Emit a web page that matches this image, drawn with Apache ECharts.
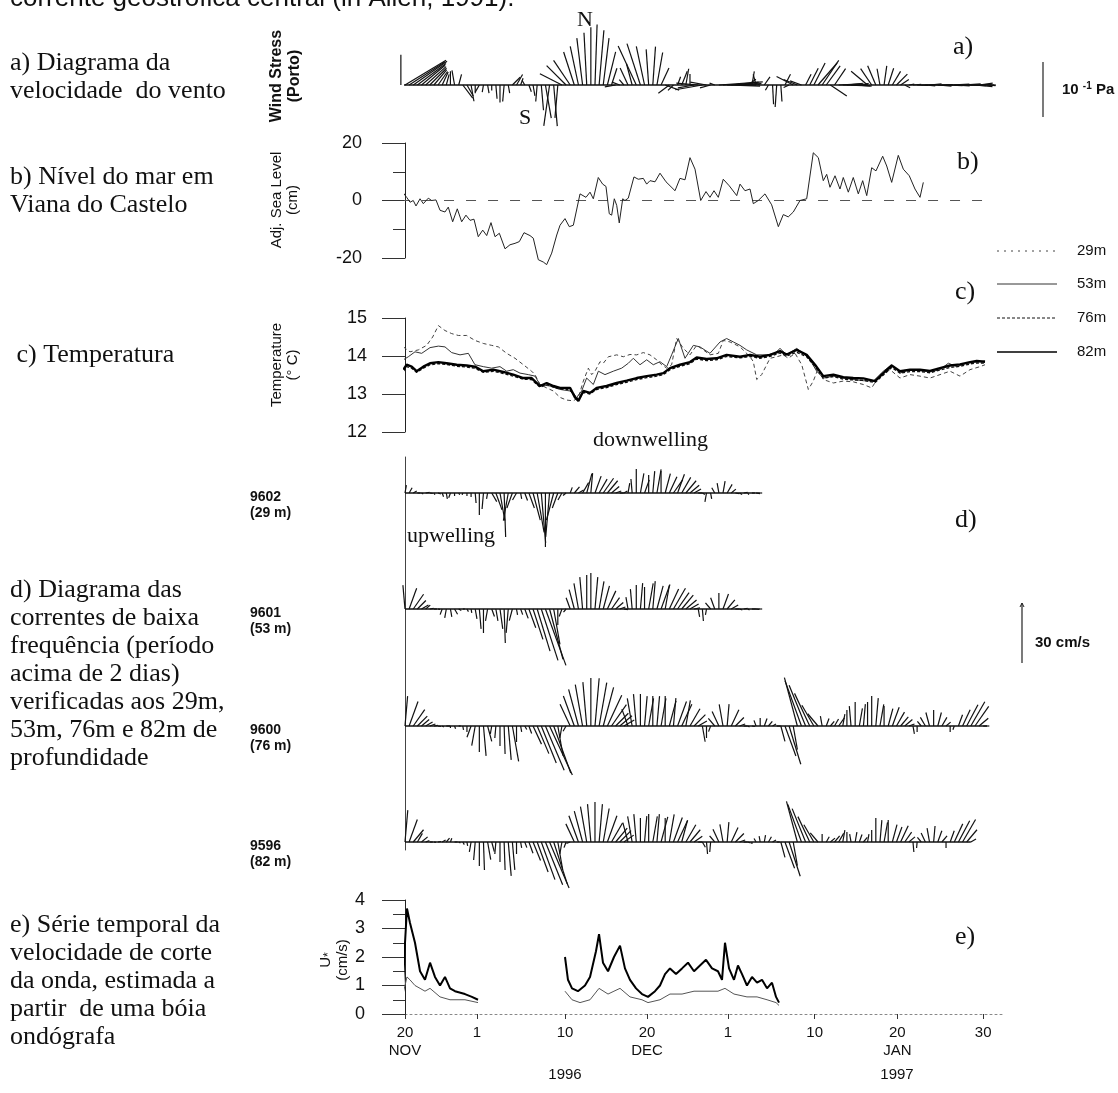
<!DOCTYPE html>
<html><head><meta charset="utf-8">
<script src="https://cdn.jsdelivr.net/npm/echarts/dist/echarts.min.js"></script>
<style>html,body{margin:0;padding:0;background:#fff}#c{width:1118px;height:1093px}</style>
</head><body><div id="c"></div>
<script>
// ---------- DATA (x in chart time units: 0 = 20 NOV tick, ~10 units between labelled ticks) ----------
var tickValues = [0, 8.72, 19.37, 29.3, 39.1, 49.6, 59.6, 70];
var tickLabels = ['20\nNOV','1','10','20\nDEC','1','10','20\nJAN','30'];
var legendNames = ['29m','53m','76m','82m'];

// a) wind stress sticks [speed (1e-2 Pa), direction deg clockwise from north], every 0.5 unit from windT0
var windT0 = -0.5;
var windSticks = [[5.5,0],[8.7,59],[7.8,57],[7.5,55],[6.5,53],[5.6,50],[5,48],[4.3,45],[3.6,40],[3,35],
[2.6,25],[2,15],[2.5,0],[2.7,-10],[2,15],[3,143],[2.3,150],[3,170],[1.5,180],[1.5,210],
[1.3,190],[1.5,170],[1,180],[2.5,175],[3.2,180],[3,185],[1.5,170],[2,45],[2.2,30],[1.3,20],
[1,-30],[1.3,160],[2,170],[3,185],[4.6,175],[6.1,170],[7.5,188],[7.5,175],[6,185],[4.5,-63],
[5,-45],[5.4,-34],[6.3,-18],[7.2,-12],[8.6,-7],[9.5,-3],[10.5,0],[11,2],[10,5],[8.6,7],
[6.2,14],[3.2,18],[2,260],[1.5,290],[1.3,-40],[3.4,-25],[4,-15],[7.8,-25],[7.9,-18],[7.2,-12],
[6.5,-4],[7,4],[6,10],[3.4,25],[2.7,110],[2.5,233],[1.4,225],[1.6,20],[2.7,22],[3,10],
[2,0],[3,260],[4,275],[5,260],[3,280],[2,255],[1,290],[8,86],[7,88],[6,92],
[5,84],[4,87],[3,90],[2,75],[1.8,55],[2.5,10],[2,-15],[1.6,290],[1.8,35],[1.1,210],
[3.5,177],[4,184],[3,176],[2.2,27],[1.1,245],[3.4,297],[2.7,292],[2.2,290],[2.2,27],[3.4,27],
[4.5,27],[5.3,41],[5.4,34],[4.3,36],[3.6,124],[3.6,34],[4,87],[5,92],[3,84],[2,90],
[3,94],[1.5,82],[1,73],[3.9,-50],[3.6,-34],[3.8,-23],[3,-10],[3.5,8],[3.2,18],[2.9,31],
[2.8,45],[1.8,56],[1.1,117],[1,80],[1.5,85],[2,92],[2.5,88],[1.8,95],[2.2,85],[3,90],
[2.5,95],[2,88],[3,92],[3.5,87],[2.8,93],[3,90],[3.3,86],[3.5,92],[3.8,88],[3.2,95],
[2.5,82],[2,90],[1.5,95],[0.8,90]];

// b) adjusted sea level (cm)
var seaLevel = [[-0.61,-6],[-0.28,2.9],[0.2,1.1],[0.61,-0.6],[1.0,0],[1.33,-1.9],[1.82,0.6],[2.22,-1.1],[2.82,0.8],[3.23,0],[3.75,0.2],[4.24,-3.4],[4.84,-4],[5.24,-2.3],[5.77,-7.4],[6.33,-2.9],[6.86,-7.4],[7.38,-5.1],[7.87,-6.9],[8.35,-6.5],[8.87,-12.6],[9.41,-10.3],[9.89,-12.2],[10.41,-7.7],[10.9,-12.6],[11.42,-11.4],[12.11,-16.8],[12.71,-15.4],[13.32,-14.9],[13.84,-14.3],[14.41,-11.2],[15.13,-12.2],[15.53,-13.1],[16.14,-20.6],[16.74,-21.4],[17.15,-22.3],[17.76,-18.3],[18.37,-12],[18.77,-8.6],[19.37,-6.3],[19.89,-9.1],[20.38,-8.6],[21.19,2.3],[21.91,1.1],[22.4,2.9],[22.8,0.6],[23.4,8],[23.93,5.7],[24.33,4.9],[24.73,-4.6],[25.02,-5.1],[25.34,0.6],[25.63,-1.7],[25.94,-7.8],[26.36,0.6],[26.63,0],[27.03,0.8],[27.72,8.2],[28.24,7.4],[28.85,7.7],[29.26,5.7],[29.66,6.9],[30.27,6.5],[30.87,9.5],[31.6,6.5],[32.69,3.4],[33.29,7.7],[33.9,7.2],[34.5,14.9],[35.11,10.9],[35.8,0],[36.44,3.1],[36.92,1.1],[37.41,3.4],[37.93,1.1],[38.53,7.4],[39.26,5.1],[40.16,1.7],[40.56,5.7],[41.16,3.4],[41.77,4],[42.17,-1.1],[42.77,0],[43.58,2.3],[44.39,-1.5],[45.2,-9.1],[45.8,-4.9],[46.4,-5.7],[47.01,-4],[47.82,0],[48.63,0.6],[49.43,16.6],[50.04,14.9],[50.64,6.9],[51.05,9.1],[51.45,4.6],[52.06,8.6],[52.66,4],[53.06,8],[53.67,2.9],[54.27,8],[54.88,2.3],[55.41,6.9],[55.9,1.7],[56.5,11.4],[57.02,10.3],[57.83,15.4],[58.32,12],[58.92,6.3],[59.72,15.7],[60.33,10.9],[61.05,8.6],[61.74,4],[62.35,1.1],[62.75,6.3]];
var seaZero = [[-0.6,0],[71,0]];

// c) temperature (deg C)
var temp29 = [[-0.2,14.24],[0.6,14.11],[1.61,14.16],[2.62,14.28],[3.35,14.5],[4.04,14.8],[4.84,14.67],[5.65,14.59],[6.46,14.54],[7.47,14.54],[8.47,14.41],[9.48,14.33],[10.49,14.28],[11.3,14.24],[12.31,14.07],[13.32,13.94],[14.33,13.77],[15.33,13.6],[15.74,13.51],[16.34,13.25],[17.15,13.16],[17.96,13.08],[18.77,12.91],[19.57,12.84],[20.38,12.82],[20.99,12.91],[21.59,13.34],[22.2,13.68],[22.6,13.51],[23,13.6],[23.61,13.85],[24.01,13.81],[24.62,13.98],[25.63,14.03],[26.43,13.98],[27.24,14.04],[28.05,14.03],[28.85,14.09],[29.66,14.03],[30.47,13.9],[31.07,13.77],[31.68,13.68],[32.28,13.77],[32.89,14.46],[33.7,14.2],[34.5,14.03],[35.31,14.28],[36.12,14.16],[36.92,14.03],[37.93,14.07],[38.54,14.41],[39.35,14.37],[40.56,14.24],[41.77,13.98],[42.17,13.85],[42.58,13.38],[43.18,13.51],[44.19,13.94],[45,13.98],[45.8,14.03],[46.41,13.94],[47.22,14.07],[48.03,13.77],[48.83,13.12],[49.43,13.34],[50.04,13.68],[50.64,13.38],[51.86,13.29],[53.06,13.34],[54.27,13.32],[55.49,13.25],[56.5,13.16],[57.51,13.51],[58.72,13.64],[59.93,13.42],[61.14,13.51],[62.35,13.47],[63.56,13.42],[64.77,13.51],[65.98,13.6],[67.19,13.47],[68.4,13.64],[69.61,13.72],[70.22,13.77]];
var temp53 = [[-0.2,13.9],[0.4,13.98],[1.21,14.11],[2.02,14.07],[3.03,14.22],[4.04,14.26],[4.84,14.24],[5.65,14.09],[6.66,14.03],[7.67,14.07],[8.47,13.77],[9.48,13.72],[10.49,13.68],[11.5,13.72],[12.31,13.6],[13.11,13.64],[13.92,13.55],[14.93,13.51],[15.74,13.47],[16.34,13.25],[17.55,13.21],[18.77,13.12],[19.98,13.08],[20.78,12.91],[21.39,13.08],[21.99,13.42],[22.8,13.25],[23.41,13.6],[24.21,13.51],[25.22,13.6],[26.23,13.68],[27.04,13.81],[27.64,13.94],[28.45,13.77],[29.26,13.9],[30.06,13.77],[30.87,13.85],[31.68,13.72],[32.28,14.03],[33.09,14.46],[33.9,13.94],[34.91,14.28],[35.71,14.24],[36.92,14.07],[38.14,14.37],[38.94,14.46],[39.75,14.37],[40.56,14.28],[41.37,14.16],[42.58,14.03],[43.79,14.03],[44.79,14.07],[45.4,14.2],[46.21,14.03],[47.42,14.2],[48.23,14.07],[49.03,13.9],[49.84,13.6],[50.64,13.42],[51.86,13.47],[53.06,13.42],[54.27,13.38],[55.49,13.35],[56.7,13.34],[57.91,13.6],[58.92,13.77],[59.93,13.55],[61.14,13.64],[62.35,13.61],[63.56,13.58],[64.77,13.64],[65.78,13.81],[66.79,13.72],[68,13.81],[69.21,13.84],[70.22,13.87]];
var temp76 = [[-0.2,13.6],[0.2,13.72],[0.81,13.68],[1.41,13.57],[2.22,13.68],[3.03,13.77],[4.04,13.8],[5.04,13.78],[6.26,13.73],[7.47,13.71],[8.47,13.68],[9.48,13.57],[10.69,13.6],[11.9,13.54],[13.11,13.47],[14.33,13.39],[15.33,13.38],[16.34,13.18],[17.15,13.25],[17.96,13.18],[18.77,13.13],[19.98,13.12],[20.58,12.95],[20.99,12.86],[21.59,13.04],[22.4,13.0],[23.2,13.12],[24.41,13.17],[25.63,13.25],[26.84,13.31],[28.05,13.38],[29.26,13.43],[30.47,13.47],[31.28,13.51],[32.08,13.64],[33.29,13.73],[34.5,13.8],[35.31,13.92],[36.52,13.88],[37.73,13.9],[38.94,13.99],[40.56,13.95],[41.77,13.99],[42.98,13.94],[44.19,13.99],[45.4,14.08],[46.21,14.0],[47.42,14.1],[48.63,13.98],[49.64,13.72],[50.64,13.42],[51.86,13.46],[53.06,13.39],[54.27,13.37],[55.49,13.36],[56.9,13.3],[57.91,13.5],[58.92,13.7],[59.93,13.55],[61.14,13.59],[62.35,13.59],[63.56,13.56],[64.77,13.63],[65.98,13.7],[67.19,13.73],[68.4,13.79],[69.21,13.82],[70.22,13.81]];
var temp82 = [[-0.2,13.64],[0.2,13.77],[0.81,13.72],[1.41,13.6],[2.22,13.72],[3.03,13.81],[4.04,13.84],[5.04,13.81],[6.26,13.77],[7.47,13.75],[8.47,13.72],[9.48,13.6],[10.69,13.64],[11.9,13.58],[13.11,13.51],[14.33,13.42],[15.33,13.42],[16.34,13.21],[17.15,13.29],[17.96,13.21],[18.77,13.16],[19.98,13.16],[20.58,12.91],[20.99,12.82],[21.59,13.08],[22.4,13.03],[23.2,13.16],[24.41,13.21],[25.63,13.29],[26.84,13.35],[28.05,13.42],[29.26,13.47],[30.47,13.51],[31.28,13.55],[32.08,13.68],[33.29,13.77],[34.5,13.84],[35.31,13.96],[36.52,13.92],[37.73,13.94],[38.94,14.03],[40.56,13.98],[41.77,14.03],[42.98,13.98],[44.19,14.03],[45.4,14.13],[46.21,14.04],[47.42,14.16],[48.63,14.03],[49.64,13.77],[50.64,13.47],[51.86,13.51],[53.06,13.44],[54.27,13.42],[55.49,13.41],[56.9,13.34],[57.91,13.55],[58.92,13.75],[59.93,13.6],[61.14,13.64],[62.35,13.64],[63.56,13.61],[64.77,13.68],[65.98,13.75],[67.19,13.78],[68.4,13.84],[69.21,13.87],[70.22,13.85]];

// d) low-frequency currents [speed cm/s, direction deg], every 0.5 unit from 0
var cur9602 = [[4,10],[3,30],[2,60],[1.5,90],[1,120],[2,80],[1.5,100],[1,150],[1.5,110],[2,160],[3,170],[2.5,200],[1.5,180],[1,150],[1,200],[1.5,180],[2,180],[5,175],[11,180],[8,185],[3,190],[5,150],[9,160],[14,170],[22,178],[14,190],[8,200],[4,210],[3,170],[4,160],[8,160],[14,165],[20,170],[25,175],[27,180],[22,185],[14,195],[8,200],[4,210],[2,230],[3,20],[4,40],[3,60],[6,30],[10,15],[10,5],[9,20],[8,30],[9,35],[8,40],[5,50],[3,70],[2,90],[2,60],[5,10],[7,-5],[12,0],[10,10],[7,20],[9,0],[11,5],[12,10],[11,0],[10,15],[9,25],[8,35],[10,20],[9,30],[8,40],[6,50],[4,60],[2,90],[1.5,120],[4.5,190],[3,170],[3,-30],[5,-10],[6,10],[5,30],[3,50],[2,100],[1.5,120],[2,80],[1,150],[1.5,90],[2,100],[1,90]];
var cur9601 = [[12,-5],[11,20],[9,35],[6,45],[4,60],[3,50],[2,80],[1.5,90],[1,100],[3,200],[4.5,190],[4,170],[3,150],[1.5,120],[1,90],[1.5,150],[2,170],[5,170],[10,175],[12,180],[6,190],[4,160],[6,170],[10,172],[17,178],[12,185],[6,195],[3,170],[3,160],[5,160],[10,160],[16,162],[22,163],[27,162],[30,160],[26,165],[18,170],[8,180],[4,200],[2,220],[6,-20],[10,-15],[13,-10],[16,-5],[17,0],[18,0],[16,5],[14,10],[12,15],[10,25],[7,35],[5,50],[3,70],[2,100],[6,-10],[10,-5],[12,0],[13,5],[11,0],[13,10],[14,5],[12,15],[13,20],[12,10],[11,25],[12,30],[10,35],[9,40],[7,50],[5,60],[3,80],[4,170],[6,175],[3,190],[4,-40],[6,-20],[8,0],[8,20],[6,40],[4,60],[2,90],[1.5,110],[2,80],[1,120],[2,90],[1.5,100],[1,90]];
var cur9600 = [[15,5],[13,20],[10,35],[7,45],[5,50],[4,60],[3,70],[2,80],[1.5,100],[1,120],[2,90],[1,180],[1.5,160],[1,90],[2,170],[3,180],[6,200],[10,190],[13,180],[15,175],[8,165],[4,190],[6,185],[10,180],[14,178],[17,175],[18,170],[8,180],[3,170],[2,150],[4,160],[10,155],[15,157],[20,158],[24,157],[27,155],[25,160],[15,170],[6,190],[3,210],[12,-25],[16,-20],[19,-15],[21,-10],[22,-5],[24,0],[24,5],[22,10],[20,15],[17,25],[13,35],[9,45],[8,50],[6,60],[9,-20],[14,-10],[16,-5],[16,0],[15,5],[14,10],[15,0],[15,5],[14,10],[15,0],[13,15],[14,5],[13,20],[12,25],[13,10],[10,30],[8,45],[5,60],[8,170],[6,180],[3,200],[5,-40],[8,-25],[11,-10],[11,5],[9,25],[6,45],[3,70],[2,90],[1,120],[1.5,100],[3,-20],[4,0],[4,20],[3,40],[2,60],[2,90],[8,165],[16,160],[20,163],[12,170],[25,-15],[24,-20],[22,-22],[18,-25],[12,-30],[8,-40],[5,-10],[4,20],[3,40],[4,30],[5,35],[6,10],[8,0],[10,-5],[12,0],[9,10],[11,5],[12,0],[15,0],[14,5],[11,10],[10,0],[9,15],[10,20],[8,30],[6,40],[5,50],[3,70],[4,170],[3,180],[3,-40],[5,-30],[7,-15],[8,0],[7,15],[5,30],[3,50],[3,180],[2,200],[6,20],[9,25],[12,28],[14,30],[12,35],[6,50],[2,90],[1,90]];
var cur9596 = [[16,5],[12,20],[8,40],[5,30],[4,50],[2,70],[1.5,90],[1,100],[1.5,80],[2,60],[2.5,40],[2,20],[1.5,90],[1,120],[1.5,150],[2,170],[5,190],[9,185],[12,180],[14,178],[9,170],[5,165],[6,185],[10,180],[14,178],[17,175],[14,175],[6,180],[3,170],[3,160],[6,160],[10,158],[16,160],[20,160],[23,158],[25,157],[22,162],[14,170],[6,190],[3,200],[2,250],[10,-25],[14,-20],[16,-15],[18,-10],[19,-5],[20,0],[19,5],[17,10],[14,20],[11,30],[9,40],[8,45],[6,55],[10,-15],[13,-10],[14,-5],[12,0],[13,5],[14,0],[13,10],[14,5],[13,15],[12,0],[14,10],[13,20],[12,25],[11,15],[10,30],[8,40],[5,55],[2,90],[3,150],[6,175],[5,185],[4,-40],[7,-25],[9,-10],[10,5],[8,25],[6,45],[3,70],[2,90],[1.5,110],[1,180],[2,-30],[3,-10],[3.5,10],[3,30],[2,60],[1.5,90],[8,165],[14,160],[18,162],[12,170],[21,-15],[20,-20],[18,-22],[14,-25],[10,-30],[6,-40],[4,0],[3,30],[3,50],[4,40],[5,30],[6,10],[5,0],[4,-10],[5,10],[4,20],[3,40],[4,10],[6,0],[12,0],[11,5],[10,10],[11,0],[9,15],[8,20],[9,25],[6,35],[4,50],[5,175],[3,185],[3,-40],[5,-25],[7,-10],[8,5],[6,20],[4,40],[3,180],[6,20],[10,25],[12,28],[13,30],[8,40],[3,60]];

// e) wave shear velocity U* (cm/s)
var uStarThick = [[-0.24,1.0],[0,2.5],[0.24,3.7],[0.6,3.2],[1.21,2.5],[1.82,1.5],[2.42,1.2],[3.03,1.8],[3.63,1.3],[4.24,1.0],[4.84,1.3],[5.45,0.9],[6.05,0.8],[7.26,0.7],[8.1,0.6],[8.84,0.5],'-',
[19.37,2.0],[19.73,1.2],[20.22,0.9],[20.94,0.8],[21.79,1.0],[22.4,1.3],[23.12,2.2],[23.49,2.8],[23.97,1.8],[24.58,1.5],[25.3,2.0],[26.03,2.4],[26.63,1.6],[27.24,1.2],[27.97,0.9],[28.69,0.7],[29.42,0.6],[30.27,0.8],[30.87,1.0],[31.48,1.4],[32.08,1.6],[32.81,1.4],[33.54,1.6],[34.26,1.8],[34.99,1.5],[35.71,1.7],[36.44,1.9],[37.17,1.6],[37.89,1.5],[38.38,1.2],[38.74,2.5],[39.23,1.6],[39.83,1.2],[40.31,1.7],[40.8,1.4],[41.4,1.0],[42.01,1.3],[42.62,1.1],[43.22,1.2],[43.83,0.9],[44.43,1.1],[44.92,0.6],[45.28,0.4]];
var uStarThin = [[-0.24,0.7],[0.24,1.3],[0.6,1.2],[1.21,1.0],[1.82,0.9],[2.42,0.8],[3.03,0.9],[4.24,0.6],[5.45,0.5],[7.26,0.5],[8.84,0.4],'-',
[19.37,0.8],[20.22,0.5],[21.19,0.4],[22.4,0.5],[23.49,0.9],[24.58,0.7],[25.3,0.8],[26.03,0.9],[27.24,0.6],[28.69,0.5],[29.42,0.4],[30.87,0.5],[32.08,0.7],[33.54,0.7],[34.99,0.8],[36.44,0.8],[37.89,0.8],[38.74,0.9],[39.83,0.7],[41.4,0.6],[42.62,0.6],[43.83,0.5],[44.92,0.4],[45.28,0.3]];

// ---------- CHART ----------
var STEP = 0.5, XMAX = 600 / 8.26;
var SERIF = '"Liberation Serif","Times New Roman",serif', SANS = '"Liberation Sans",Arial,sans-serif';
var chart = echarts.init(document.getElementById('c'), null, {renderer: 'canvas'});

function renderStick(params, api) {
  var t = api.value(0), s = api.value(1), d = api.value(2) * Math.PI / 180;
  var p = api.coord([t, 0]);
  var k = api.size([0, 1])[1];
  return {type: 'line', shape: {x1: p[0], y1: p[1], x2: p[0] + s * Math.sin(d) * k, y2: p[1] - s * Math.cos(d) * k},
          style: {stroke: '#111', lineWidth: 1.2}};
}
function stickSeries(arr, t0, gi) {
  return {type: 'custom', xAxisIndex: gi, yAxisIndex: gi, renderItem: renderStick, silent: true, clip: false,
    data: arr.map(function (p, i) { return [t0 + i * STEP, p[0], p[1]]; }), encode: {x: 0}};
}
function baseLine(t0, n, gi) {
  return {type: 'line', xAxisIndex: gi, yAxisIndex: gi, symbol: 'none', silent: true, clip: false,
    data: [[t0, 0], [t0 + (n - 1) * STEP, 0]], lineStyle: {color: '#111', width: 1.3}};
}
function hx(gi) { return {gridIndex: gi, type: 'value', min: 0, max: XMAX, show: false}; }
function valueY(gi, min, max, interval, minor, margin) {
  return {gridIndex: gi, type: 'value', min: min, max: max, interval: interval, offset: 5,
    axisLine: {show: true, lineStyle: {color: '#222', width: 1}},
    axisTick: {show: true, inside: false, length: 23, lineStyle: {color: '#333'}},
    minorTick: {show: minor, splitNumber: 2, length: 12, lineStyle: {color: '#333'}},
    splitLine: {show: false},
    axisLabel: {color: '#111', fontSize: 18, fontFamily: SANS, margin: margin}};
}
var grids = [
  {left: 405, width: 600, top: 30, height: 110},
  {left: 405, width: 600, top: 143, height: 115},
  {left: 405, width: 600, top: 318, height: 114},
  {left: 405, width: 600, top: 457, height: 393},
  {left: 405, width: 600, top: 435, height: 116},
  {left: 405, width: 600, top: 551, height: 116},
  {left: 405, width: 600, top: 668, height: 116},
  {left: 405, width: 600, top: 784, height: 116},
  {left: 405, width: 600, top: 900, height: 114}
];
var xAxes = [hx(0), hx(1), hx(2), hx(3), hx(4), hx(5), hx(6), hx(7), {
  gridIndex: 8, type: 'value', min: 0, max: XMAX,
  axisLine: {show: true, lineStyle: {color: '#888', width: 1, type: [2, 3]}},
  axisTick: {show: true, length: 5, customValues: tickValues, lineStyle: {color: '#333'}},
  splitLine: {show: false},
  axisLabel: {customValues: tickValues, color: '#111', fontSize: 15, fontFamily: SANS, lineHeight: 18, margin: 10,
    formatter: function (v) {
      for (var i = 0; i < tickValues.length; i++) { if (Math.abs(tickValues[i] - v) < 0.01) return tickLabels[i]; }
      return '';
    }}
}];
var yAxes = [
  {gridIndex: 0, type: 'value', min: -10, max: 10, show: false},
  valueY(1, -20, 20, 20, true, 38),
  valueY(2, 12, 15, 1, false, 33),
  {gridIndex: 3, type: 'value', min: 0, max: 1, offset: 5, axisLine: {show: true, lineStyle: {color: '#444'}},
    axisTick: {show: false}, axisLabel: {show: false}, splitLine: {show: false}},
  {gridIndex: 4, type: 'value', min: -29, max: 29, show: false},
  {gridIndex: 5, type: 'value', min: -29, max: 29, show: false},
  {gridIndex: 6, type: 'value', min: -29, max: 29, show: false},
  {gridIndex: 7, type: 'value', min: -29, max: 29, show: false},
  valueY(8, 0, 4, 1, true, 35)
];
var tStyles = {
  '29m': {color: '#444', width: 1, type: [4, 3]},
  '53m': {color: '#333', width: 1, type: 'solid'},
  '76m': {color: '#111', width: 1.4, type: [3, 2]},
  '82m': {color: '#000', width: 2.4, type: 'solid'}
};
function tLine(name, data) {
  return {name: name, type: 'line', xAxisIndex: 2, yAxisIndex: 2, symbol: 'none', clip: false, data: data, lineStyle: tStyles[name]};
}
var series = [
  stickSeries(windSticks, windT0, 0), baseLine(windT0, windSticks.length, 0),
  {type: 'line', xAxisIndex: 1, yAxisIndex: 1, symbol: 'none', silent: true, clip: false, data: seaZero, lineStyle: {color: '#555', width: 1, type: [10, 12]}},
  {type: 'line', xAxisIndex: 1, yAxisIndex: 1, symbol: 'none', clip: false, data: seaLevel, lineStyle: {color: '#222', width: 1}},
  tLine('29m', temp29), tLine('53m', temp53), tLine('76m', temp76), tLine('82m', temp82),
  stickSeries(cur9602, 0, 4), baseLine(0, cur9602.length, 4),
  stickSeries(cur9601, 0, 5), baseLine(0, cur9601.length, 5),
  stickSeries(cur9600, 0, 6), baseLine(0, cur9600.length, 6),
  stickSeries(cur9596, 0, 7), baseLine(0, cur9596.length, 7),
  {type: 'line', xAxisIndex: 8, yAxisIndex: 8, symbol: 'none', clip: false, connectNulls: false, data: uStarThin, lineStyle: {color: '#555', width: 1}},
  {type: 'line', xAxisIndex: 8, yAxisIndex: 8, symbol: 'none', clip: false, connectNulls: false, data: uStarThick, lineStyle: {color: '#000', width: 2}}
];

function txt(text, x, y, font, opt) {
  opt = opt || {};
  return {type: 'text', x: x, y: y, rotation: opt.rot || 0, silent: true,
    style: {text: text, font: font, fill: opt.fill || '#111', textAlign: opt.align || 'left', align: opt.align || 'left',
      textVerticalAlign: opt.valign || 'middle', verticalAlign: opt.valign || 'middle', lineHeight: opt.lh, rich: opt.rich}};
}
var F26 = '26px ' + SERIF;
var graphics = [
  txt('corrente geostrófica central (in Allen, 1991).', 10, -1, '26px ' + SANS),
  txt('a) Diagrama da\nvelocidade  do vento', 10, 49, F26, {valign: 'top', lh: 28}),
  txt('b) Nível do mar em\nViana do Castelo', 10, 163, F26, {valign: 'top', lh: 28}),
  txt(' c) Temperatura', 10, 341, F26, {valign: 'top', lh: 28}),
  txt('d) Diagrama das\ncorrentes de baixa\nfrequência (período\nacima de 2 dias)\nverificadas aos 29m,\n53m, 76m e 82m de\nprofundidade', 10, 576, F26, {valign: 'top', lh: 28}),
  txt('e) Série temporal da\nvelocidade de corte\nda onda, estimada a\npartir  de uma bóia\nondógrafa', 10, 911, F26, {valign: 'top', lh: 28}),
  txt('Wind Stress\n(Porto)', 286, 76, 'bold 16px ' + SANS, {rot: Math.PI / 2, align: 'center', lh: 18}),
  txt('Adj. Sea Level\n(cm)', 285, 200, '15px ' + SANS, {rot: Math.PI / 2, align: 'center', lh: 16}),
  txt('Temperature\n(° C)', 285, 365, '15px ' + SANS, {rot: Math.PI / 2, align: 'center', lh: 16}),
  txt('U{s|*}\n(cm/s)', 334, 960, '15px ' + SANS, {rot: Math.PI / 2, align: 'center', lh: 17,
    rich: {s: {font: '12px ' + SANS, fill: '#111', padding: [6, 0, 0, 0]}}}),
  txt('a)', 953, 47, F26), txt('b)', 957, 162, F26), txt('c)', 955, 292, F26),
  txt('d)', 955, 520, F26), txt('e)', 955, 937, F26),
  txt('N', 585, 20, '22px ' + SERIF, {align: 'center'}), txt('S', 525, 118, '22px ' + SERIF, {align: 'center'}),
  txt('upwelling', 407, 536, '22px ' + SERIF), txt('downwelling', 593, 440, '22px ' + SERIF),
  txt('9602\n(29 m)', 250, 505, 'bold 14px ' + SANS, {lh: 16}),
  txt('9601\n(53 m)', 250, 621, 'bold 14px ' + SANS, {lh: 16}),
  txt('9600\n(76 m)', 250, 738, 'bold 14px ' + SANS, {lh: 16}),
  txt('9596\n(82 m)', 250, 854, 'bold 14px ' + SANS, {lh: 16}),
  txt('1996', 565, 1075, '15px ' + SANS, {align: 'center'}),
  txt('1997', 897, 1075, '15px ' + SANS, {align: 'center'}),
  txt('{b|10} {s|-1} {b|Pa}', 1062, 90, 'bold 15px ' + SANS, {rich: {b: {font: 'bold 15px ' + SANS, fill: '#111'}, s: {font: 'bold 10px ' + SANS, fill: '#111', padding: [0, 0, 8, 0]}}}),
  txt('30 cm/s', 1035, 643, 'bold 15px ' + SANS)
];
// legend for the temperature depths (line samples + names)
var legendY = [251, 284, 318, 352];
legendNames.forEach(function (n, i) {
  var st = tStyles[n];
  graphics.push({type: 'line', silent: true, shape: {x1: 997, y1: legendY[i], x2: 1057, y2: legendY[i]},
    style: {stroke: st.color, lineWidth: n === '82m' ? 1.6 : 1, lineDash: n === '29m' ? [2, 5] : (st.type === 'solid' ? null : st.type)}});
  graphics.push(txt(n, 1077, legendY[i], '15px ' + SANS));
});

chart.setOption({
  animation: false, backgroundColor: '#fff',
  grid: grids, xAxis: xAxes, yAxis: yAxes, series: series,
  graphic: graphics
});

// scale bars derived from the axes' own scales
var windLen = chart.convertToPixel({yAxisIndex: 0}, 0) - chart.convertToPixel({yAxisIndex: 0}, 10);
var curLen = chart.convertToPixel({yAxisIndex: 5}, 0) - chart.convertToPixel({yAxisIndex: 5}, 30);
graphics.push({type: 'line', silent: true, shape: {x1: 1043, y1: 117, x2: 1043, y2: 117 - windLen}, style: {stroke: '#222', lineWidth: 1.2}});
graphics.push({type: 'line', silent: true, shape: {x1: 1022, y1: 663, x2: 1022, y2: 663 - curLen}, style: {stroke: '#222', lineWidth: 1.2}});
graphics.push({type: 'polyline', silent: true, shape: {points: [[1020, 663 - curLen + 4], [1022, 663 - curLen], [1024, 663 - curLen + 4]]}, style: {stroke: '#222', lineWidth: 1, fill: null}});
chart.setOption({graphic: graphics});
</script></body></html>
